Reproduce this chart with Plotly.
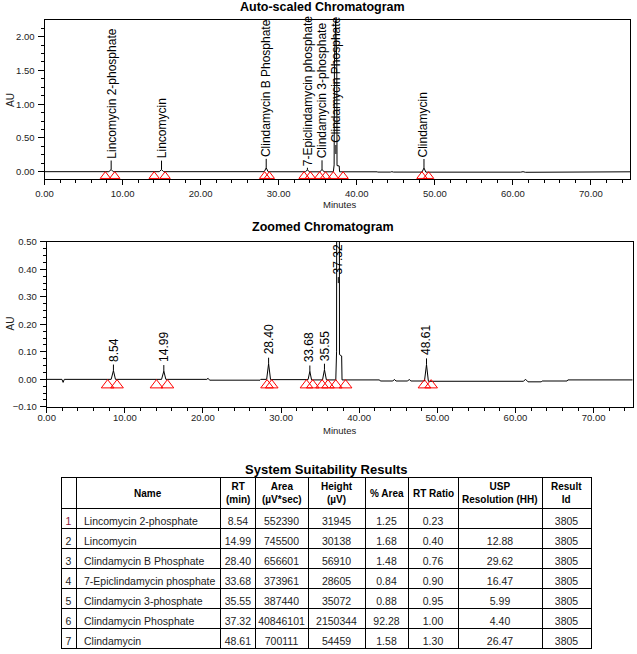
import plotly.graph_objects as go

# ---------------- data ----------------
peak_names = ["Lincomycin 2-phosphate", "Lincomycin", "Clindamycin B Phosphate",
              "7-Epiclindamycin phosphate", "Clindamycin 3-phosphate",
              "Clindamycin Phosphate", "Clindamycin"]
peak_rt = [8.54, 14.99, 28.40, 33.68, 35.55, 37.32, 48.61]
peak_area = [552390, 745500, 656601, 373961, 387440, 40846101, 700111]
peak_height_uv = [31945, 30138, 56910, 28605, 35072, 2150344, 54459]
pct_area = [1.25, 1.68, 1.48, 0.84, 0.88, 92.28, 1.58]
rt_ratio = [0.23, 0.40, 0.76, 0.90, 0.95, 1.00, 1.30]
usp_resolution = [None, 12.88, 29.62, 16.47, 5.99, 4.40, 26.47]
result_id = [3805, 3805, 3805, 3805, 3805, 3805, 3805]

# integration start / end marks (minutes)
peak_start = [7.8, 14.05, 28.2, 33.25, 35.25, 37.0, 48.35]
peak_end = [9.0, 15.45, 28.8, 34.05, 36.0, 38.25, 49.2]

# detector trace (minutes, AU)
signal_time = [0.0, 1.95, 2.1, 2.25, 8.25, 8.54, 8.8, 14.7, 14.99, 15.25,
               20.5, 20.65, 20.85, 27.3, 27.4, 28.15, 28.40, 28.65, 33.45, 33.68,
               33.9, 35.3, 35.55, 35.8, 37.0, 37.1, 37.14, 37.3, 37.44, 37.47,
               37.75, 37.8, 42.6, 42.7, 44.3, 44.5, 44.7, 46.2, 46.4, 46.6,
               48.35, 48.61, 48.85, 61.0, 61.3, 61.6, 63.3, 63.4, 66.6, 66.7, 75.0]
signal_au = [0.0, 0.0, -0.011, 0.0, 0.0, 0.032, 0.0, 0.0, 0.030, 0.0,
             0.0, 0.004, -0.003, -0.003, 0.0, 0.0, 0.057, -0.001, -0.001, 0.029,
             -0.002, -0.002, 0.035, -0.002, -0.002, 0.10, 1.6, 2.24, 1.6, 0.09,
             0.085, -0.002, -0.002, -0.006, -0.006, 0.0, -0.006, -0.006, 0.0, -0.006,
             -0.006, 0.054, -0.007, -0.007, 0.0, -0.009, -0.009, -0.006, -0.006, -0.002, -0.002]

x_tick_vals = [0, 10, 20, 30, 40, 50, 60, 70]

header_labels = ["", "Name", "RT<br>(min)", "Area<br>(µV*sec)", "Height<br>(µV)",
                 "% Area", "RT Ratio", "USP<br>Resolution (HH)", "Result<br>Id"]

# ---------------- styling ----------------
W, H = 637, 654
FONT = "Arial, Liberation Sans, sans-serif"


def px_x(v):
    return v / W


def px_y(v):
    return 1 - v / H


fig = go.Figure()

for xa, ya, msize, my in (("x", "y", 9, -0.067), ("x2", "y2", 11, -0.021)):
    fig.add_trace(go.Scatter(x=signal_time, y=signal_au, mode="lines",
                             line=dict(color="black", width=1),
                             xaxis=xa, yaxis=ya, showlegend=False, hoverinfo="skip"))
    marks = peak_start + peak_end
    fig.add_trace(go.Scatter(x=marks, y=[my] * len(marks), mode="markers",
                             marker=dict(symbol="triangle-up-open", size=msize,
                                         color="red", line=dict(color="red", width=1)),
                             xaxis=xa, yaxis=ya, showlegend=False, hoverinfo="skip",
                             cliponaxis=False))

axis_common = dict(showline=True, linecolor="black", linewidth=1, mirror=True,
                   showgrid=False, zeroline=False, ticks="outside", tickcolor="black",
                   tickwidth=1, tickformat=".2f", automargin=False,
                   tickfont=dict(family=FONT, size=9.5, color="#222"))

fig.update_layout(
    width=W, height=H, margin=dict(l=0, r=0, t=0, b=0, pad=0, autoexpand=False),
    paper_bgcolor="white", plot_bgcolor="white", showlegend=False,
    xaxis=dict(domain=[px_x(44.5), px_x(630)], range=[0, 75], anchor="y",
               tickvals=x_tick_vals, ticklen=5, ticklabelstandoff=1,
               minor=dict(dtick=2, tick0=0, ticks="outside", ticklen=3, tickcolor="black"),
               **axis_common),
    yaxis=dict(domain=[px_y(178.7), px_y(20)], range=[-0.104, 2.247], anchor="x",
               dtick=0.5, tick0=0, ticklen=6, ticklabelstandoff=1,
               minor=dict(dtick=0.125, tick0=0, ticks="outside", ticklen=3, tickcolor="black"),
               **axis_common),
    xaxis2=dict(domain=[px_x(46.7), px_x(632.7)], range=[0, 75], anchor="y2",
                tickvals=x_tick_vals, ticklen=5, ticklabelstandoff=-3,
                minor=dict(dtick=2, tick0=0, ticks="outside", ticklen=3, tickcolor="black"),
                **axis_common),
    yaxis2=dict(domain=[px_y(407), px_y(241.7)], range=[-0.1005, 0.5005], anchor="x2",
                dtick=0.1, tick0=0, ticklen=6, ticklabelstandoff=1,
                minor=dict(dtick=0.025, tick0=0, ticks="outside", ticklen=3, tickcolor="black"),
                **axis_common),
)


def paper_text(text, x, y, size, angle=0, color="black"):
    return dict(text=text, x=px_x(x), y=px_y(y), xref="paper", yref="paper",
                xanchor="center", yanchor="middle", showarrow=False, textangle=angle,
                font=dict(family=FONT, size=size, color=color))


ann = []
ann.append(paper_text("<b>Auto-scaled Chromatogram</b>", 322.8, 6.5, 12.5))
ann.append(paper_text("<b>Zoomed Chromatogram</b>", 323.3, 227.5, 12.5))
ann.append(paper_text("<b>System Suitability Results</b>", 326.7, 469, 13))
for yy in (100, 323.5):
    ann.append(paper_text("AU", 10, yy, 10, angle=-90, color="#222"))
for yy in (204, 430.5):
    ann.append(paper_text("Minutes", 340, yy, 9.5, color="#222"))

shapes = []
# peak labels + tick lines
top_line = [9, 9, 9, 2, 9, 9, 9]
TOP_CAP, ZOOM_CAP = 0.262, 0.35
for i, (name, rt, h) in enumerate(zip(peak_names, peak_rt, peak_height_uv)):
    au = h / 1e6
    for xr, yr, cap, L, gap, text in (("x", "y", TOP_CAP, top_line[i], 2, name),
                                      ("x2", "y2", ZOOM_CAP, 6, 3, f"{rt:.2f}")):
        ya = min(au, cap)
        shapes.append(dict(type="line", xref=xr, yref=yr, ysizemode="pixel", yanchor=ya,
                           x0=rt, x1=rt, y0=0, y1=L, line=dict(color="black", width=1)))
        ann.append(dict(text=text, x=rt, y=ya, xref=xr, yref=yr, showarrow=False,
                        yanchor="bottom", xanchor="center", yshift=L + gap,
                        textangle=-90, borderpad=0, borderwidth=0,
                        font=dict(family=FONT, size=12, color="black")))

# table header texts
col_w = [15, 144.7, 34.3, 53, 57, 43, 50, 84, 49]
TABLE_X0, TABLE_TOP, HEADER_H = 61, 477.7, 31
xc = TABLE_X0
for w, lab in zip(col_w, header_labels):
    if lab:
        ann.append(dict(text=f"<b>{lab}</b>", x=px_x(xc + w / 2), y=px_y(TABLE_TOP + HEADER_H / 2),
                        xref="paper", yref="paper", xanchor="center", yanchor="middle",
                        align="center", showarrow=False,
                        font=dict(family=FONT, size=10, color="black")))
    xc += w

fig.update_layout(annotations=ann, shapes=shapes)

# ---------------- table ----------------
fmt2 = lambda v: "" if v is None else f"{v:.2f}"
idx = [str(i + 1) for i in range(len(peak_names))]
idx_colors = ["#8a1538"] + ["#222"] * (len(idx) - 1)
cells = [idx, [n.replace(" ", "\u00a0") for n in peak_names],
         [fmt2(v) for v in peak_rt], [str(v) for v in peak_area],
         [str(v) for v in peak_height_uv], [fmt2(v) for v in pct_area],
         [fmt2(v) for v in rt_ratio], [fmt2(v) for v in usp_resolution],
         [str(v) for v in result_id]]

fig.add_trace(go.Table(
    domain=dict(x=[px_x(TABLE_X0), px_x(TABLE_X0 + sum(col_w))], y=[0, px_y(TABLE_TOP)]),
    columnwidth=col_w,
    header=dict(values=[""] * len(col_w), height=HEADER_H, align="center",
                font=dict(family=FONT, size=10, color="black"),
                line=dict(color="black", width=1), fill=dict(color="white")),
    cells=dict(values=cells, height=20,
               align=["center", "left"] + ["center"] * 7,
               font=dict(family=FONT, size=10.5,
                         color=[idx_colors] + ["#222"] * 8),
               line=dict(color="black", width=1), fill=dict(color="white")),
))

fig.write_html("out.html")
